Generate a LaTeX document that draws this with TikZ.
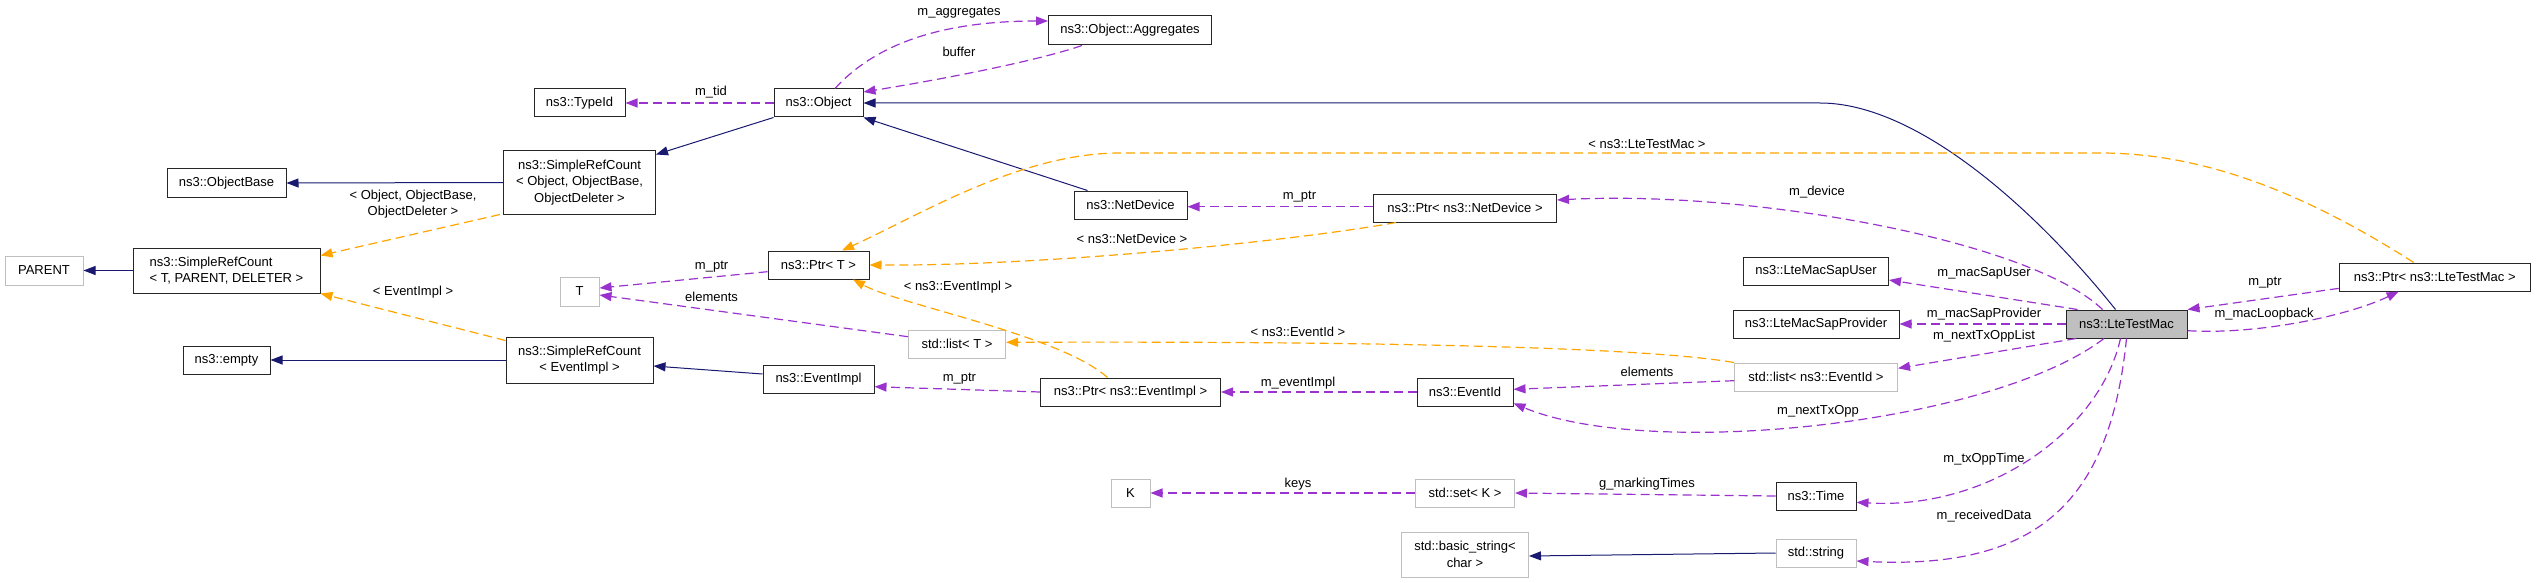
\documentclass[tikz,border=0pt]{standalone}
\usepackage{fontspec}
\setmainfont{Liberation Sans}
\usepackage{tikz}
\usetikzlibrary{arrows.meta,positioning,calc}
\usepackage{color}
\definecolor{inhblue}{HTML}{191970}
\definecolor{usepurple}{HTML}{9A32CD}
\definecolor{tplorange}{HTML}{FFA500}
\definecolor{undocgray}{HTML}{BFBFBF}

\begin{document}
\begin{tikzpicture}
[x=1pt,y=-1pt,
every node/.style={font=\fontsize{13}{16.7}\selectfont,inner sep=0pt},
cls/.style={draw=black!85,line width=1pt,fill=white,align=center,minimum height=28pt},
undoc/.style={draw=undocgray,line width=1pt,fill=white,align=center,minimum height=28pt},
mainbox/.style={draw=black!85,line width=1pt,fill=undocgray,minimum height=28pt},
lbl/.style={align=center},
inh/.style={draw=inhblue,line width=1pt,-{Triangle[length=12pt,width=9pt]}},
usage/.style={draw=usepurple,line width=1.2pt,dash pattern=on 9pt off 5pt,-{Triangle[length=12pt,width=9pt]}},
tpl/.style={draw=tplorange,line width=1.2pt,dash pattern=on 9pt off 5pt,-{Triangle[length=12pt,width=9pt]}}]
\useasboundingbox (0,0) rectangle (2536,583);

% classes
\node[cls,minimum width=91pt] (typeid) at (579.5,103) {ns3::TypeId};
\node[cls,minimum width=119pt] (objbase) at (226.5,183) {ns3::ObjectBase};
\node[cls,minimum width=152pt,minimum height=63pt] (srcobj) at (579.5,182.5) {ns3::SimpleRefCount\\< Object, ObjectBase,\\ObjectDeleter >};
\node[undoc,minimum width=78pt,minimum height=29pt] (parent) at (44,270.5) {PARENT};
\node[cls,minimum width=187pt,minimum height=45pt,align=left] (srct) at (226.5,270.5) {ns3::SimpleRefCount\\< T, PARENT, DELETER >};
\node[undoc,minimum width=39pt,minimum height=29pt] (tparam) at (579.5,291.5) {T};
\node[cls,minimum width=87pt] (empty) at (226.5,360) {ns3::empty};
\node[cls,minimum width=147pt,minimum height=46pt] (srcev) at (579.5,360) {ns3::SimpleRefCount\\< EventImpl >};
\node[cls,minimum width=163pt,minimum height=29pt] (aggr) at (1130,30.5) {ns3::Object::Aggregates};
\node[cls,minimum width=89pt] (obj) at (818.5,103) {ns3::Object};
\node[cls,minimum width=113pt] (netdev) at (1130.5,205) {ns3::NetDevice};
\node[cls,minimum width=101pt] (ptrt) at (818.5,265) {ns3::Ptr< T >};
\node[undoc,minimum width=97pt] (listt) at (957,344) {std::list< T >};
\node[cls,minimum width=111pt] (evimpl) at (818.5,379) {ns3::EventImpl};
\node[cls,minimum width=180pt] (ptrev) at (1130.5,392) {ns3::Ptr< ns3::EventImpl >};
\node[undoc,minimum width=39pt] (kparam) at (1130.5,493) {K};
\node[cls,minimum width=183pt] (ptrnd) at (1465,208) {ns3::Ptr< ns3::NetDevice >};
\node[cls,minimum width=145pt] (sapuser) at (1816,271) {ns3::LteMacSapUser};
\node[cls,minimum width=166pt] (sapprov) at (1816,324) {ns3::LteMacSapProvider};
\node[undoc,minimum width=163pt] (listev) at (1816,377) {std::list< ns3::EventId >};
\node[cls,minimum width=96pt] (evid) at (1465,392) {ns3::EventId};
\node[undoc,minimum width=99pt] (setk) at (1465,493) {std::set< K >};
\node[cls,minimum width=80pt] (time) at (1816,496) {ns3::Time};
\node[undoc,minimum width=127pt,minimum height=45pt] (bstr) at (1465,554.5) {std::basic\_string<\\char >};
\node[undoc,minimum width=80pt] (str) at (1816,553) {std::string};
\node[mainbox,minimum width=121pt] (ltemac) at (2126.5,324) {ns3::LteTestMac};
\node[cls,minimum width=191pt] (ptrmac) at (2434.7,277) {ns3::Ptr< ns3::LteTestMac >};

% inheritance
\draw[inh] (obj.south west) -- ([yshift=-4]srcobj.north east);
\draw[inh] (srcobj.west) -- (objbase.east);
\draw[inh] (srct.west) -- (parent.east);
\draw[inh] (srcev.west) -- (empty.east);
\draw[inh] ([yshift=5]evimpl.west) -- ([yshift=-6]srcev.east);
\draw[inh] ([xshift=-43]netdev.north) -- (obj.south east);
\draw[inh] (str.west) -- ([yshift=-1.5]bstr.east);
\draw[inh] ([xshift=-11]ltemac.north) .. controls (2040,215) and (1920,103) .. (1820,103) -- (obj.east);

% templates
\draw[tpl] ([xshift=-3]srcobj.south west) -- ([yshift=-8]srct.north east);
\draw[tpl] ([yshift=-4]srcev.north west) -- (srct.south east);
\draw[tpl] ([xshift=-69]ptrnd.south) .. controls (1300,240) and (1050,266) .. (ptrt.east);
\draw[tpl] ([xshift=-23]ptrev.north) .. controls (1060,335) and (900,305) .. ([xshift=34.5]ptrt.south);
\draw[tpl] (listev.north west) .. controls (1650,348) and (1400,341) .. ([yshift=1.7]listt.east);
\draw[tpl] ([xshift=-21]ptrmac.north) .. controls (2300,190) and (2200,153) .. (2100,153) -- (1120,153) .. controls (1020,153) and (920,215) .. ([xshift=23.5]ptrt.north);

% members
\draw[usage] (obj.west) -- (typeid.east);
\draw[usage] ([xshift=16.5]obj.north) .. controls (870,50) and (930,21) .. ([yshift=9.5]aggr.west);
\draw[usage] ([xshift=-48]aggr.south) .. controls (1040,60) and (950,78) .. ([yshift=11]obj.east);
\draw[usage] ([yshift=-6.7]ptrt.west) -- ([yshift=3.5]tparam.east);
\draw[usage] ([yshift=7.3]listt.west) -- ([yshift=-3.5]tparam.east);
\draw[usage] ([yshift=1.3]ptrnd.west) -- ([yshift=-1.7]netdev.east);
\draw[usage] (ptrev.west) -- ([yshift=-7.7]evimpl.east);
\draw[usage] (evid.west) -- (ptrev.east);
\draw[usage] ([yshift=-3.7]listev.west) -- ([yshift=2.7]evid.east);
\draw[usage] ([xshift=-22.5]ltemac.south) .. controls (1990,425) and (1650,460) .. ([yshift=-11.3]evid.east);
\draw[usage] ([xshift=-24]ltemac.north) .. controls (2030,240) and (1750,190) .. ([yshift=8]ptrnd.east);
\draw[usage] ([xshift=12]ltemac.north west) -- ([yshift=-9]sapuser.east);
\draw[usage] (ltemac.west) -- (sapprov.east);
\draw[usage] ([xshift=10.7]ltemac.south west) -- ([yshift=8.7]listev.east);
\draw[usage] ([xshift=-6]ltemac.south) .. controls (2100,430) and (1990,510) .. ([yshift=-6.3]time.east);
\draw[usage] (ltemac.south) .. controls (2110,500) and (2040,570) .. ([yshift=-8]str.east);
\draw[usage] ([yshift=-6.7]ltemac.east) .. controls (2260,335) and (2350,315) .. ([xshift=-36]ptrmac.south);
\draw[usage] ([yshift=-11.4]ptrmac.west) -- (ltemac.north east);
\draw[usage] (time.west) -- (setk.east);
\draw[usage] (setk.west) -- (kparam.east);

% labels
\node[lbl] (ltid) at (711,92) {m\_tid};
\node[lbl] (laggr) at (959,13) {m\_aggregates};
\node[lbl] (lbuf) at (959,52) {buffer};
\node[lbl] (lsrcobj) at (413,204) {< Object, ObjectBase,\\ObjectDeleter >};
\node[lbl] (lsrcev) at (413,292) {< EventImpl >};
\node[lbl] (lptrt) at (711.6,266.7) {m\_ptr};
\node[lbl] (lelemt) at (711.6,296.7) {elements};
\node[lbl] (lptrnd) at (1299.5,196.7) {m\_ptr};
\node[lbl] (ltplnd) at (1132,239.3) {< ns3::NetDevice >};
\node[lbl] (ltplev) at (958,287.3) {< ns3::EventImpl >};
\node[lbl] (lptrev) at (959.4,379) {m\_ptr};
\node[lbl] (levimpl) at (1298,382.7) {m\_eventImpl};
\node[lbl] (ltplid) at (1298,331.7) {< ns3::EventId >};
\node[lbl] (lelemid) at (1647,372.3) {elements};
\node[lbl] (lnexttx) at (1818,411.7) {m\_nextTxOpp};
\node[lbl] (ldevice) at (1817,191.7) {m\_device};
\node[lbl] (lsapuser) at (1984,273) {m\_macSapUser};
\node[lbl] (lsapprov) at (1984,314.3) {m\_macSapProvider};
\node[lbl] (ltxlist) at (1984,336) {m\_nextTxOppList};
\node[lbl] (ltxtime) at (1984,459.3) {m\_txOppTime};
\node[lbl] (lrecv) at (1984,515.7) {m\_receivedData};
\node[lbl] (lloop) at (2264,314) {m\_macLoopback};
\node[lbl] (lptrmac) at (2265,283) {m\_ptr};
\node[lbl] (ltplmac) at (1647,144) {< ns3::LteTestMac >};
\node[lbl] (lmark) at (1647,484) {g\_markingTimes};
\node[lbl] (lkeys) at (1298,484) {keys};
\end{tikzpicture}
\end{document}
